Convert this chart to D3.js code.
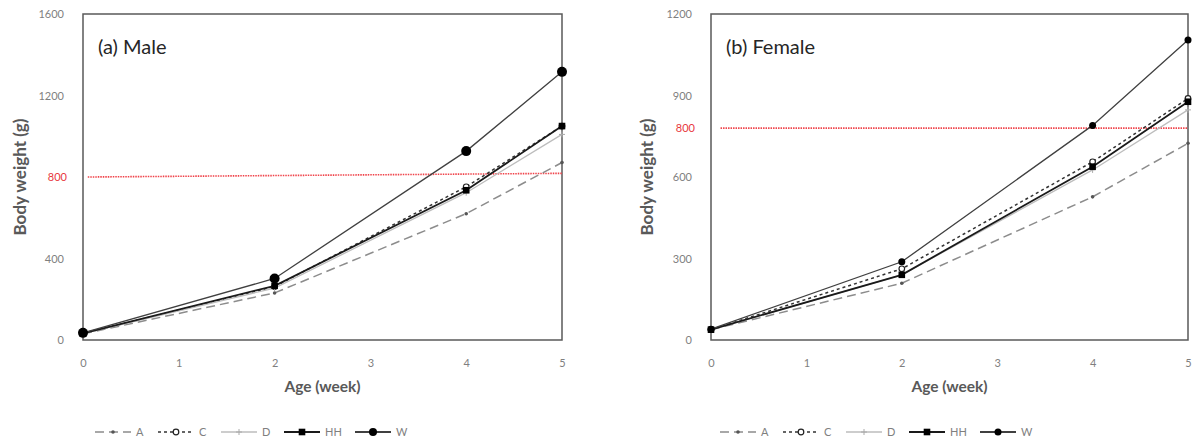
<!DOCTYPE html>
<html><head><meta charset="utf-8">
<script src="https://cdn.jsdelivr.net/npm/d3@7"></script>
<style>body{margin:0;background:#fff;font-family:Lato,"Open Sans",sans-serif;}</style>
</head><body><svg id="c" width="1194" height="443"></svg>
<script>
const weeks = [0, 2, 4, 5];
const seriesNames = ["A", "C", "D", "HH", "W"];
// Male
const maleA  = [30, 231, 620, 871];
const maleC  = [32, 262, 752, 1050];
const maleD  = [31, 255, 723, 1009];
const maleHH = [32, 266, 735, 1050];
const maleW  = [35, 302, 927, 1316];
const maleRef = [[0.05, 800], [5, 818]];
const maleRefLabel = 800;
const maleTicks = [0, 400, 1200, 1600];
// Female
const femaleA  = [38, 209, 527, 724];
const femaleC  = [38, 262, 656, 889];
const femaleD  = [38, 240, 626, 847];
const femaleHH = [38, 240, 638, 877];
const femaleW  = [40, 288, 790, 1104];
const femaleRef = [[0.1, 780], [5, 780]];
const femaleRefLabel = 800;
const femaleTicks = [0, 300, 600, 900, 1200];
const xTicks = [0, 1, 2, 3, 4, 5];

const styles = {
  A:  {stroke:"#8c8c8c", width:1.5, dash:"9,5", marker:"dot", r:1.8, fill:"#555"},
  C:  {stroke:"#333", width:1.5, dash:"3,3", marker:"open", r:2.8, fill:"#fff"},
  D:  {stroke:"#bdbdbd", width:1.3, dash:null, marker:"plus", r:3, fill:"#aaa"},
  HH: {stroke:"#1a1a1a", width:1.8, dash:null, marker:"square", r:3.3, fill:"#000"},
  W:  {stroke:"#404040", width:1.3, dash:null, marker:"circle", r:5, fill:"#000"}
};

const svg = d3.select("#c");

function drawMarker(g, type, x, y, st, r) {
  if (type === "dot" || type === "circle") {
    g.append("circle").attr("cx", x).attr("cy", y).attr("r", r).attr("fill", st.fill);
  } else if (type === "open") {
    g.append("circle").attr("cx", x).attr("cy", y).attr("r", r).attr("fill", "#fff").attr("stroke", "#222").attr("stroke-width", 1.2);
  } else if (type === "plus") {
    g.append("path").attr("d", `M${x-r},${y}H${x+r}M${x},${y-r}V${y+r}`).attr("stroke", st.fill).attr("stroke-width", 1);
  } else if (type === "square") {
    g.append("rect").attr("x", x-r).attr("y", y-r).attr("width", 2*r).attr("height", 2*r).attr("fill", st.fill);
  }
}

function panel(opts) {
  const {x0, x1, y0, y1, ymax, ticks, data, ref, refLabel, title, wR, yTitleX, legendX} = opts;
  const x = d3.scaleLinear().domain([0, 5]).range([x0, x1]);
  const y = d3.scaleLinear().domain([0, ymax]).range([y1, y0]);
  const g = svg.append("g");

  // y tick labels
  const ya = g.append("g").attr("transform", `translate(${x0 - 16},0)`)
    .call(d3.axisLeft(y).tickValues(ticks).tickSize(0).tickFormat(d3.format("d")));
  ya.select(".domain").remove();
  ya.selectAll("text").attr("font-family", "Lato, sans-serif").attr("font-size", 11).attr("fill", "#7f7f7f");
  // red reference label
  g.append("text").attr("x", x0 - 16).attr("y", y(ref[0][1])).attr("dy", "0.32em")
    .attr("text-anchor", "end").text(refLabel)
    .attr("font-family", "Lato, sans-serif").attr("font-size", 11).attr("fill", "#e8383d");

  // x tick labels
  const xa = g.append("g").attr("transform", `translate(0,${y1 + 16})`)
    .call(d3.axisBottom(x).tickValues(xTicks).tickSize(0).tickFormat(d3.format("d")));
  xa.select(".domain").remove();
  xa.selectAll("text").attr("font-family", "Lato, sans-serif").attr("font-size", 11).attr("fill", "#7f7f7f");

  // plot frame
  g.append("rect").attr("x", x0).attr("y", y0).attr("width", x1 - x0).attr("height", y1 - y0)
    .attr("fill", "none").attr("stroke", "#595959").attr("stroke-width", 1.5);

  // reference line
  g.append("path").datum(ref)
    .attr("d", d3.line().x(d => x(d[0])).y(d => y(d[1])))
    .attr("fill", "none").attr("stroke", "#f0434a").attr("stroke-width", 1.6).attr("stroke-dasharray", "1.5,1");

  // series
  const line = d3.line().x((d, i) => x(weeks[i])).y(d => y(d));
  seriesNames.forEach(name => {
    const st = styles[name];
    g.append("path").datum(data[name]).attr("d", line).attr("fill", "none")
      .attr("stroke", st.stroke).attr("stroke-width", st.width)
      .attr("stroke-dasharray", st.dash);
  });
  seriesNames.forEach(name => {
    const st = styles[name];
    const r = name === "W" ? wR : st.r;
    data[name].forEach((v, i) => drawMarker(g, st.marker, x(weeks[i]), y(v), st, r));
  });

  // titles
  g.append("text").attr("x", x0 + 15).attr("y", y0 + 40).text(title)
    .attr("font-family", "Lato, sans-serif").attr("font-size", 20).attr("fill", "#262626");
  g.append("text").attr("x", (x0 + x1) / 2).attr("y", y1 + 52).attr("text-anchor", "middle")
    .text("Age (week)").attr("font-family", "Lato, sans-serif").attr("font-weight", "bold")
    .attr("font-size", 15.5).attr("fill", "#595959");
  g.append("text").attr("transform", `translate(${yTitleX},${(y0 + y1) / 2}) rotate(-90)`)
    .attr("text-anchor", "middle").text("Body weight (g)")
    .attr("font-family", "Lato, sans-serif").attr("font-weight", "bold")
    .attr("font-size", 17).attr("fill", "#595959");

  // legend
  const ly = 432;
  let lx = legendX;
  seriesNames.forEach(name => {
    const st = styles[name];
    const r = name === "W" ? Math.min(wR, 4) : st.r;
    g.append("line").attr("x1", lx).attr("x2", lx + 36).attr("y1", ly).attr("y2", ly)
      .attr("stroke", st.stroke).attr("stroke-width", name === "HH" || name === "W" ? 2.2 : st.width)
      .attr("stroke-dasharray", st.dash);
    drawMarker(g, st.marker, lx + 18, ly, st, r);
    g.append("text").attr("x", lx + 41).attr("y", ly + 4).text(name)
      .attr("font-family", "Lato, sans-serif").attr("font-size", 11).attr("fill", "#7f7f7f");
    lx += name === "HH" ? 71 : 63;
  });
}

panel({x0: 83, x1: 562, y0: 14, y1: 340, ymax: 1600, ticks: maleTicks,
  data: {A: maleA, C: maleC, D: maleD, HH: maleHH, W: maleW}, ref: maleRef, refLabel: maleRefLabel,
  title: "(a) Male", wR: 5, yTitleX: 26, legendX: 95});
panel({x0: 711, x1: 1188, y0: 14, y1: 340, ymax: 1200, ticks: femaleTicks,
  data: {A: femaleA, C: femaleC, D: femaleD, HH: femaleHH, W: femaleW}, ref: femaleRef, refLabel: femaleRefLabel,
  title: "(b) Female", wR: 3.5, yTitleX: 653, legendX: 720});
</script></body></html>
